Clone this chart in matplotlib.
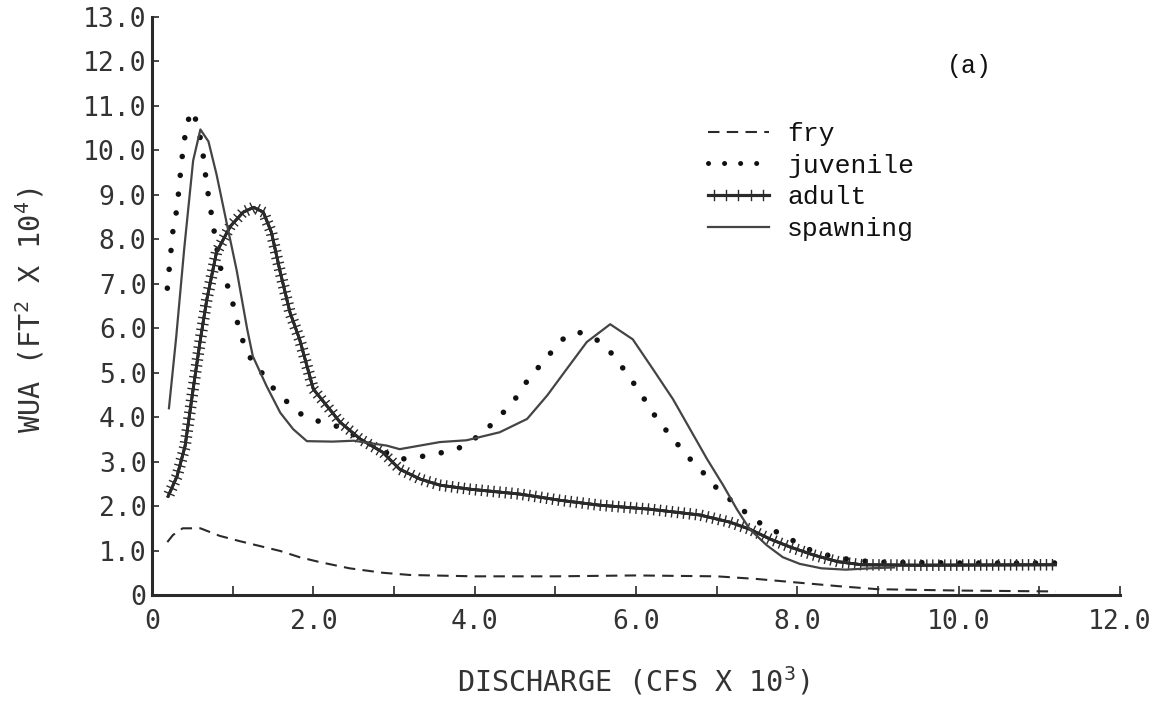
import numpy as np
import matplotlib
matplotlib.use("Agg")
import matplotlib.pyplot as plt
from matplotlib import patheffects as pe
from matplotlib.lines import Line2D

plt.rcParams['font.family'] = ['DejaVu Sans Mono', 'DejaVu Sans']
plt.rcParams['mathtext.default'] = 'regular'

# discharge (cfs x 10^3) / WUA (ft^2 x 10^4)
fry_x = [0.19, 0.26, 0.38, 0.6, 0.84, 1.09, 1.34, 1.59, 1.83, 2.08, 2.45, 2.86,
         3.2, 4.0, 5.0, 6.0, 7.0, 7.5, 8.0, 8.5, 9.0, 10.0, 11.2]
fry_y = [1.19, 1.35, 1.5, 1.5, 1.33, 1.21, 1.1, 0.99, 0.85, 0.74, 0.6, 0.5,
         0.45, 0.42, 0.42, 0.44, 0.42, 0.36, 0.28, 0.2, 0.13, 0.1, 0.08]

juv_x = [0.19, 0.26, 0.31, 0.37, 0.43, 0.50, 0.56, 0.62, 0.68, 0.76, 0.84, 0.97,
         1.09, 1.19, 1.30, 1.50, 1.71, 1.88, 2.08, 2.25, 2.50, 2.80, 3.07, 3.48,
         3.80, 4.07, 4.27, 4.48, 4.66, 4.87, 5.08, 5.27, 5.47, 5.68, 5.89, 6.07,
         6.26, 6.46, 6.67, 6.86, 7.04, 7.25, 7.45, 7.66, 7.87, 8.1, 8.4, 8.7,
         9.0, 10.0, 11.2]
juv_y = [6.9, 8.2, 8.7, 9.8, 10.6, 10.9, 10.6, 10.1, 9.2, 8.3, 7.4, 6.8,
         5.9, 5.4, 5.15, 4.66, 4.28, 4.02, 3.9, 3.83, 3.6, 3.3, 3.05, 3.15,
         3.3, 3.6, 3.94, 4.35, 4.84, 5.29, 5.74, 5.92, 5.81, 5.47, 4.98, 4.5,
         3.96, 3.51, 3.06, 2.7, 2.32, 2.03, 1.71, 1.49, 1.31, 1.05, 0.88, 0.78,
         0.74, 0.72, 0.72]

adult_x = [0.2, 0.31, 0.41, 0.51, 0.6, 0.68, 0.8, 0.97, 1.13, 1.26, 1.38, 1.48,
           1.59, 1.71, 1.83, 2.0, 2.17, 2.33, 2.58, 2.86, 3.07, 3.32, 3.57, 3.94,
           4.56, 5.06, 5.55, 6.17, 6.79, 7.16, 7.41, 7.66, 7.91, 8.2, 8.5, 8.8,
           9.5, 11.2]
adult_y = [2.22, 2.67, 3.35, 4.63, 5.75, 6.65, 7.71, 8.29, 8.61, 8.72, 8.61, 8.16,
           7.26, 6.36, 5.75, 4.63, 4.25, 3.89, 3.51, 3.21, 2.83, 2.61, 2.47, 2.38,
           2.27, 2.13, 2.02, 1.93, 1.8, 1.64, 1.48, 1.26, 1.08, 0.9, 0.75, 0.68,
           0.67, 0.68]

spawn_x = [0.21, 0.30, 0.40, 0.51, 0.60, 0.70, 0.80, 0.93, 1.05, 1.18, 1.25, 1.42,
           1.59, 1.75, 1.92, 2.24, 2.50, 2.91, 3.07, 3.57, 3.90, 4.31, 4.65, 4.90,
           5.14, 5.39, 5.68, 5.96, 6.21, 6.46, 6.67, 6.88, 7.08, 7.25, 7.41, 7.62,
           7.82, 8.03, 8.30, 8.60, 8.90, 9.20]
spawn_y = [4.2, 5.8, 7.8, 9.77, 10.47, 10.2, 9.46, 8.33, 7.3, 5.98, 5.37, 4.7,
           4.1, 3.73, 3.46, 3.45, 3.47, 3.36, 3.28, 3.44, 3.48, 3.66, 3.96, 4.49,
           5.08, 5.69, 6.09, 5.75, 5.08, 4.4, 3.73, 3.06, 2.47, 1.93, 1.48, 1.12,
           0.85, 0.7, 0.6, 0.57, 0.6, 0.62]

x_ticks = [0, 2, 4, 6, 8, 10, 12]
x_tick_labels = ['0', '2.0', '4.0', '6.0', '8.0', '10.0', '12.0']
y_ticks = list(range(14))
y_tick_labels = ['0'] + ['%.1f' % v for v in range(1, 14)]
series_names = ['fry', 'juvenile', 'adult', 'spawning']

ink = '#2a2a2a'
fry_style = dict(color=ink, lw=1.5, ls=(0, (5.5, 3.5)))
juv_style = dict(color='#111111', lw=4.0, ls=(0, (0.01, 3.4)), dash_capstyle='round')
spawn_style = dict(color='#444444', lw=1.6)


def adult_fx(spacing, length):
    return [pe.withTickedStroke(angle=90, spacing=spacing, length=length, linewidth=1.0, foreground=ink),
            pe.withTickedStroke(angle=-90, spacing=spacing, length=length, linewidth=1.0, foreground=ink),
            pe.Normal()]


fig = plt.figure(figsize=(11.59, 7.04), dpi=100)
ax = fig.add_axes([152 / 1159, 1 - 595 / 704, (1120 - 152) / 1159, (595 - 17) / 704])

ax.plot(fry_x, fry_y, **fry_style)
ax.plot(juv_x, juv_y, **juv_style)
ax.plot(adult_x, adult_y, color=ink, lw=2.0, path_effects=adult_fx(4.3, 0.85))
ax.plot(spawn_x, spawn_y, **spawn_style)

ax.set_xlim(0, 12)
ax.set_ylim(0, 13)
ax.set_xticks(x_ticks)
ax.set_xticklabels(x_tick_labels)
ax.set_xticks(np.arange(0, 13, 1), minor=True)
ax.set_yticks(y_ticks)
ax.set_yticklabels(y_tick_labels)
ax.tick_params(axis='x', which='both', direction='in', length=6.5, width=1.2,
               pad=10, labelsize=19, color=ink, labelcolor='#333333')
ax.tick_params(axis='y', direction='in', length=5, width=1.2, pad=4,
               labelsize=19, color=ink, labelcolor='#333333')
for s in ['top', 'right']:
    ax.spines[s].set_visible(False)
for s in ['left', 'bottom']:
    ax.spines[s].set_linewidth(2.2)
    ax.spines[s].set_color(ink)

fig.text(633 / 1159, 1 - 681 / 704, 'DISCHARGE (CFS X 10$^{3}$)', ha='center', va='center',
         fontsize=20.5, color='#333333')
fig.text(30 / 1159, 1 - 310 / 704, 'WUA (FT$^{2}$ X 10$^{4}$)', ha='center', va='center',
         rotation=90, fontsize=20.5, color='#333333')

fig.text(969 / 1159, 1 - 66 / 704, '(a)', ha='center', va='center',
         family='Liberation Mono', fontsize=18, color='#111111')

handles = [Line2D([], [], **fry_style),
           Line2D([], [], color='#111111', lw=3.6, ls=(0, (0.01, 3.2)), dash_capstyle='round'),
           Line2D([], [], color=ink, lw=2.2, path_effects=adult_fx(8, 0.45)),
           Line2D([], [], **spawn_style)]
leg = ax.legend(handles, series_names, loc='upper left', bbox_to_anchor=(708 / 1159, 1 - 122 / 704),
                bbox_transform=fig.transFigure, frameon=False, borderpad=0, borderaxespad=0,
                handlelength=2.3, handletextpad=0.7, labelspacing=0.29,
                prop={'family': 'Liberation Mono', 'size': 19})
for t in leg.get_texts():
    t.set_color('#111111')

fig.savefig('out.png', dpi=100)
